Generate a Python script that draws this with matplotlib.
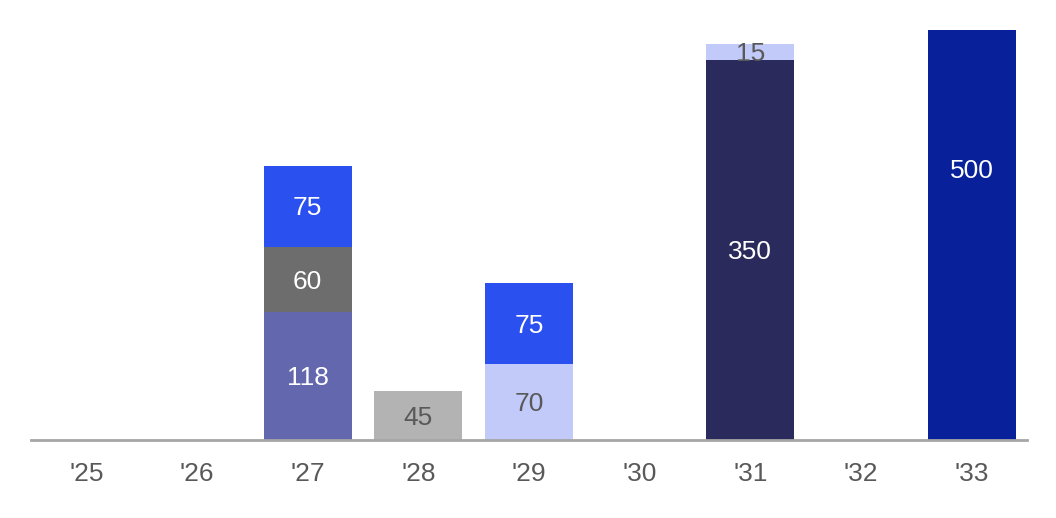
import matplotlib
matplotlib.use("Agg")
import matplotlib.pyplot as plt
import numpy as np

years = ["'25", "'26", "'27", "'28", "'29", "'30", "'31", "'32", "'33"]

# stacked segments (bottom to top), per series
series = [
    ("A", [0, 0, 118, 0, 0, 0, 0, 0, 0], "#6368AE", "white"),
    ("B", [0, 0, 0, 45, 70, 0, 350, 0, 500], None, None),
    ("C", [0, 0, 60, 0, 75, 0, 15, 0, 0], None, None),
    ("D", [0, 0, 75, 0, 0, 0, 0, 0, 0], "#2B50F0", "white"),
]

# per-segment colors for non-uniform series
seg_colors = {
    ("B", 3): ("#B3B3B3", "#595959"),
    ("B", 4): ("#C1CAF9", "#595959"),
    ("B", 6): ("#2A2A5C", "white"),
    ("B", 8): ("#08209A", "white"),
    ("C", 2): ("#6D6D6D", "white"),
    ("C", 4): ("#2B50F0", "white"),
    ("C", 6): ("#C1CAF9", "#595959"),
}

plt.rcParams['font.family'] = ['Liberation Sans', 'DejaVu Sans']
fig = plt.figure(figsize=(10.56, 5.18), dpi=100)
ax = fig.add_axes([31/1056, 1 - 440/518, (1027-31)/1056, 410/518])

x = np.arange(len(years))
bottom = np.zeros(len(years))
for name, vals, col, tcol in series:
    vals = np.array(vals, dtype=float)
    for i, v in enumerate(vals):
        if v <= 0:
            continue
        c, tc = (col, tcol) if col else seg_colors[(name, i)]
        ax.bar(x[i], v, bottom=bottom[i], width=0.795, color=c, linewidth=0)
        ax.text(x[i], bottom[i] + v / 2 - 2, f"{int(v)}", ha="center", va="center",
                color=tc, fontsize=19, clip_on=False)
    bottom += vals

ax.set_xlim(-0.5, 8.5)
ax.set_ylim(0, 378)
ax.set_xticks(x)
ax.set_xticklabels(years, fontsize=19, color="#595959")
ax.tick_params(axis="x", length=0, pad=16)
ax.set_yticks([])
for s in ["top", "right", "left"]:
    ax.spines[s].set_visible(False)
ax.spines["bottom"].set_color("#A6A6A6")
ax.spines["bottom"].set_linewidth(2)

fig.savefig("out.png", dpi=100)
